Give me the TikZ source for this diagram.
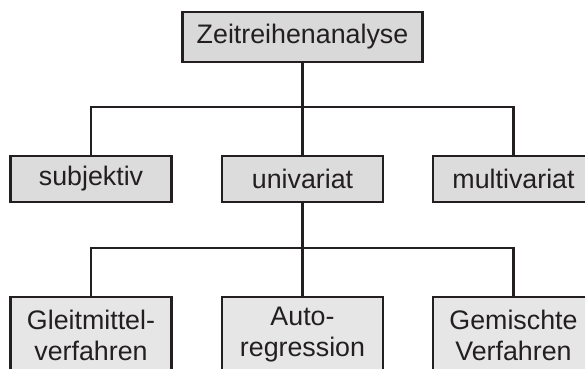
\documentclass[tikz,border=0pt]{standalone}
\usepackage{fontspec}
\setmainfont{Liberation Sans}
\definecolor{ink}{HTML}{231F20}
\definecolor{fillA}{HTML}{D9D9D9}
\definecolor{fillB}{HTML}{DCDCDC}
\definecolor{fillC}{HTML}{E6E6E6}
\begin{document}
\begin{tikzpicture}[x=1pt,y=-1pt,
  box/.style={draw=ink, line width=2.2pt, text=ink, align=center, inner sep=0pt,
    font=\fontsize{26.8}{31}\selectfont, minimum width=161pt, minimum height=46pt},
  link/.style={draw=ink, line width=2.2pt}]
\useasboundingbox (0,0) rectangle (585,368);
\clip (0,0) rectangle (585,368);

% root
\node[box, fill=fillA, minimum width=240pt, minimum height=50pt] (root) at (302.5,37) {Zeitreihenanalyse};

% second level
\node[box, fill=fillB] (subj)  at (91,179)    {subjektiv};
\node[box, fill=fillB] (univ)  at (302.5,179) {univariat};
\node[box, fill=fillB] (multi) at (513.5,179) {multivariat};

% third level
\node[box, fill=fillC, minimum height=76pt] (gleit) at (91,335)    {Gleitmittel-\\verfahren};
\node[box, fill=fillC, minimum height=76pt] (auto)  at (302.5,335) {Auto-\\regression};
\node[box, fill=fillC, minimum height=76pt] (gem)   at (513.5,335) {Gemischte\\Verfahren};

% junctions
\coordinate (j1) at (302.5,107);
\coordinate (j2) at (302.5,248);

% connectors
\draw[link] (root.south) -- (univ.north);
\draw[link] (subj.north) |- (j1) -| (multi.north);
\draw[link] (univ.south) -- (auto.north);
\draw[link] (gleit.north) |- (j2) -| (gem.north);
\end{tikzpicture}
\end{document}
